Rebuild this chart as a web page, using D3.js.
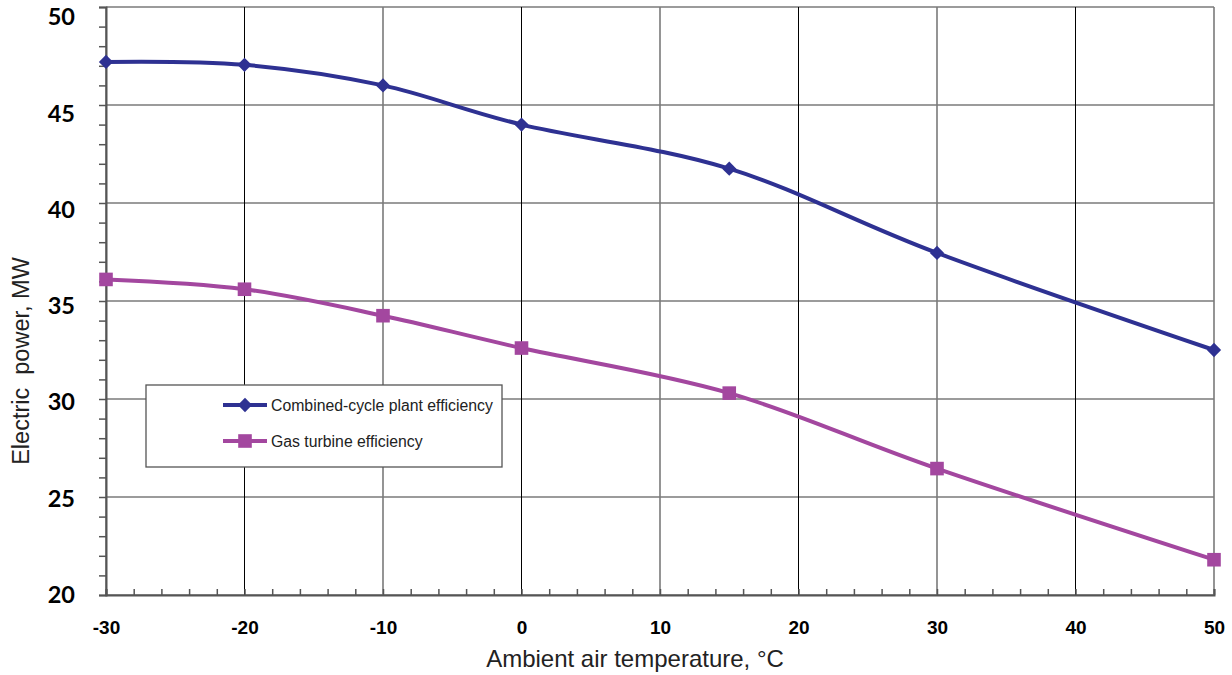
<!DOCTYPE html>
<html>
<head>
<meta charset="utf-8">
<script src="https://cdn.jsdelivr.net/npm/d3@7"></script>
<style>
  body { margin: 0; background: #fff; }
  svg { display: block; }
</style>
</head>
<body>
<svg width="1232" height="675"></svg>
<script>
var temps = [-30, -20, -10, 0, 15, 30, 50];
var combinedEff = [47.2, 47.05, 46.0, 44.0, 41.75, 37.45, 32.5];
var gasTurbineEff = [36.1, 35.6, 34.25, 32.6, 30.3, 26.45, 21.8];
var xTicks = [-30, -20, -10, 0, 10, 20, 30, 40, 50];
var yTicks = [20, 25, 30, 35, 40, 45, 50];

var series = [
    {name: "Combined-cycle plant efficiency", values: combinedEff, color: "#2e3192", marker: "diamond"},
    {name: "Gas turbine efficiency", values: gasTurbineEff, color: "#a3479f", marker: "square"}
];

let svg = d3.select("svg");
let plotLeft = 106, plotRight = 1214, plotTop = 7, plotBottom = 595;
let arial = "'Liberation Sans', Arial, sans-serif";

let x = d3.scaleLinear().domain([-30, 50]).range([plotLeft, plotRight]);
let y = d3.scaleLinear().domain([20, 50]).range([plotBottom, plotTop]);

// grid - every other vertical line is thin black, the rest thicker grey
let grid = svg.append("g").attr("class", "grid");
grid.selectAll("line.h")
    .data(yTicks)
    .enter().append("line")
    .attr("x1", plotLeft).attr("x2", plotRight)
    .attr("y1", d => y(d)).attr("y2", d => y(d))
    .attr("stroke", "#7a7a7a")
    .attr("stroke-width", 1.6);
grid.selectAll("line.v")
    .data(xTicks)
    .enter().append("line")
    .attr("x1", d => x(d)).attr("x2", d => x(d))
    .attr("y1", plotTop).attr("y2", plotBottom)
    .attr("stroke", d => d % 20 == 0 ? "#000" : "#7a7a7a")
    .attr("stroke-width", d => d % 20 == 0 ? 1 : 1.6);

// y axis
let yAxis = d3.axisLeft(y)
    .tickValues(d3.range(20, 50.01, 1))
    .tickSize(7)
    .tickFormat(d => d % 5 == 0 ? d : "");
let gy = svg.append("g")
    .attr("transform", "translate(" + plotLeft + ",0)")
    .call(yAxis);
gy.select(".domain").attr("stroke", "#555").attr("stroke-width", 2);
gy.selectAll(".tick line").attr("stroke", "#555").attr("stroke-width", 1.5);
gy.selectAll(".tick text")
    .attr("x", -31)
    .attr("transform", d => "translate(0," + (d - 20) * 0.34 + ")")
    .attr("font-family", "Lato, 'Open Sans', sans-serif")
    .attr("font-weight", "bold")
    .attr("font-size", 23.5)
    .attr("fill", "#000");

// x axis
let xAxis = d3.axisBottom(x)
    .tickValues(d3.range(-30, 50.01, 2))
    .tickSize(-6)
    .tickFormat(d => d % 10 == 0 ? d : "");
let gx = svg.append("g")
    .attr("transform", "translate(0," + plotBottom + ")")
    .call(xAxis);
gx.select(".domain").attr("stroke", "#555").attr("stroke-width", 2);
gx.selectAll(".tick line").attr("stroke", "#555").attr("stroke-width", 1.5);
gx.selectAll(".tick text")
    .attr("y", 32)
    .attr("dy", "0.35em")
    .attr("font-family", arial)
    .attr("font-weight", "bold")
    .attr("font-size", 19)
    .attr("fill", "#000");

// axis titles
svg.append("text")
    .attr("x", 635).attr("y", 667)
    .attr("text-anchor", "middle")
    .attr("font-family", arial)
    .attr("font-size", 24)
    .attr("fill", "#222")
    .text("Ambient air temperature, °C");
svg.append("text")
    .attr("transform", "translate(29,361) rotate(-90)")
    .attr("text-anchor", "middle")
    .attr("font-family", arial)
    .attr("font-size", 23.5)
    .attr("fill", "#222")
    .attr("xml:space", "preserve")
    .text("Electric  power, MW");

// lines
let line = d3.line()
    .x(d => x(d[0]))
    .y(d => y(d[1]))
    .curve(d3.curveCardinal.tension(0));

let diamond = d3.symbol().type(d3.symbolDiamond2).size(130);
let square = d3.symbol().type(d3.symbolSquare).size(185);

for (let s of series) {
    let pts = temps.map((t, i) => [t, s.values[i]]);
    svg.append("path")
        .datum(pts)
        .attr("fill", "none")
        .attr("stroke", s.color)
        .attr("stroke-width", 4)
        .attr("d", line);
    svg.append("g").selectAll("path")
        .data(pts)
        .enter().append("path")
        .attr("transform", d => "translate(" + x(d[0]) + "," + y(d[1]) + ")")
        .attr("d", s.marker == "diamond" ? diamond : square)
        .attr("fill", s.color);
}

// legend
let legend = svg.append("g").attr("transform", "translate(146,385)");
legend.append("rect")
    .attr("x", 0).attr("y", 0)
    .attr("width", 356).attr("height", 82)
    .attr("fill", "#fff")
    .attr("stroke", "#555")
    .attr("stroke-width", 1.3);
series.forEach((s, i) => {
    let ly = 20 + i * 36;
    legend.append("line")
        .attr("x1", 77).attr("x2", 121)
        .attr("y1", ly).attr("y2", ly)
        .attr("stroke", s.color).attr("stroke-width", 4);
    legend.append("path")
        .attr("transform", "translate(99," + ly + ")")
        .attr("d", s.marker == "diamond" ? diamond : square)
        .attr("fill", s.color);
    legend.append("text")
        .attr("x", 125).attr("y", ly + 6)
        .attr("font-family", arial)
        .attr("font-size", 15.8)
        .attr("fill", "#222")
        .text(s.name);
});
</script>
</body>
</html>
